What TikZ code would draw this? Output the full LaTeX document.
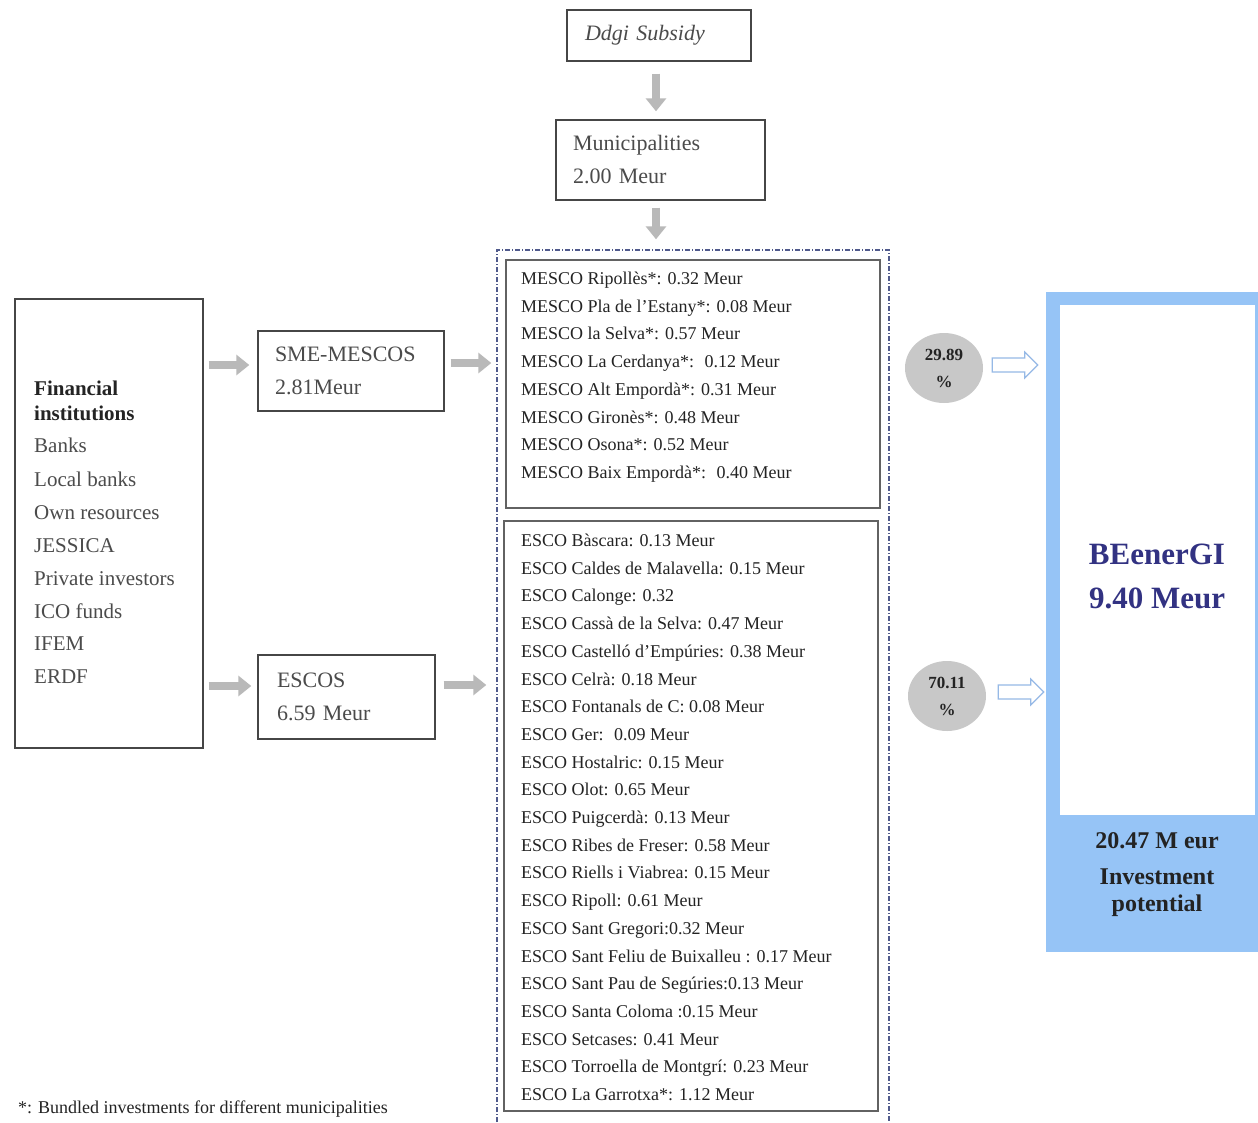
\documentclass[tikz,border=0pt]{standalone}
\usepackage{fontspec}
\setmainfont{Liberation Serif}
\usetikzlibrary{shapes.geometric,arrows.meta,calc}
\definecolor{boxline}{RGB}{70,70,70}
\definecolor{txt}{RGB}{35,35,35}
\definecolor{lighttxt}{RGB}{75,75,75}
\definecolor{arrowgray}{RGB}{185,185,185}
\definecolor{lightblue}{RGB}{150,196,246}
\definecolor{darkblue}{RGB}{50,50,130}
\definecolor{hollowblue}{RGB}{150,185,230}
\definecolor{circlegray}{RGB}{200,200,200}
\definecolor{dashblue}{RGB}{80,90,140}
\begin{document}
\begin{tikzpicture}[x=1pt,y=-1pt,
  box/.style={draw=boxline, line width=1.4pt, rectangle, inner sep=0pt},
  twoline/.style={box, align=left, text=lighttxt, font=\fontsize{22}{33}\selectfont},
  listline/.style={anchor=base west, inner sep=0pt, text=txt, font=\fontsize{18}{20}\selectfont},
  finline/.style={anchor=base west, inner sep=0pt, text=lighttxt, font=\fontsize{21}{24}\selectfont},
  garrow/.style={draw=arrowgray, line width=8pt, -{Triangle[length=13pt,width=20pt]}},
  harrow/.style={draw=hollowblue, fill=white, line width=1.2pt, line join=miter},
  dashbox/.style={draw=dashblue, line width=1.1pt, dash pattern=on 5pt off 2pt on 1pt off 2pt},
  pct/.style={ellipse, fill=circlegray, inner sep=0pt, minimum width=78pt, minimum height=70pt,
    align=center, text=txt, font=\fontsize{17}{27}\selectfont\bfseries}
]
\useasboundingbox (0,0) rectangle (1258,1122);
\fill[white] (0,0) rectangle (1258,1122);

% dashed container
\draw[dashbox] (497,1122) -- (497,250) -- (889,250) -- (889,1122);

% top boxes
\node[box, minimum width=184pt, minimum height=51pt, text width=148pt, align=left,
  text=lighttxt, font=\fontsize{22}{26}\selectfont\itshape] (subsidy) at (659,35.5) {Ddgi Subsidy};
\node[twoline, minimum width=209pt, minimum height=80pt, text width=175pt] (muni) at (660.5,160) {Municipalities\\2.00 Meur};

% left box
\node[box, minimum width=188pt, minimum height=449pt] (fin) at (109,523.5) {};
\node[finline, font=\fontsize{21}{24}\selectfont\bfseries, text=txt] (fa) at (34,395) {Financial};
\node[finline, font=\fontsize{21}{24}\selectfont\bfseries, text=txt] (fb) at (34,420) {institutions};
\foreach \yy/\lbl [count=\i] in {452/Banks, 486/Local banks, 519/Own resources, 552/JESSICA,
  585/Private investors, 618/ICO funds, 650/IFEM, 683/ERDF}
  \node[finline] (f\i) at (34,\yy) {\lbl};

% middle boxes
\node[twoline, minimum width=186pt, minimum height=80pt, text width=152pt] (sme) at (351,371) {SME-MESCOS\\2.81Meur};
\node[twoline, minimum width=177pt, minimum height=84pt, text width=139pt] (escos) at (346.5,697) {ESCOS\\6.59 Meur};

% MESCO list
\node[box, draw=boxline!85, minimum width=374pt, minimum height=248pt] (mesco) at (693,384) {};
\foreach \lbl [count=\i] in {MESCO Ripollès*: 0.32 Meur, MESCO Pla de l’Estany*: 0.08 Meur,
  MESCO la Selva*: 0.57 Meur, MESCO La Cerdanya*:~ 0.12 Meur, MESCO Alt Empordà*: 0.31 Meur,
  MESCO Gironès*: 0.48 Meur, MESCO Osona*: 0.52 Meur, MESCO Baix Empordà*:~ 0.40 Meur}
  \node[listline] (m\i) at (521,{284.5+27.7*(\i-1)}) {\lbl};

% ESCO list
\node[box, draw=boxline!85, minimum width=374pt, minimum height=590pt] (esco) at (691,816) {};
\foreach \lbl [count=\i] in {ESCO Bàscara: 0.13 Meur, ESCO Caldes de Malavella: 0.15 Meur,
  ESCO Calonge: 0.32, ESCO Cassà de la Selva: 0.47 Meur, ESCO Castelló d’Empúries: 0.38 Meur,
  ESCO Celrà: 0.18 Meur, ESCO Fontanals de C: 0.08 Meur, ESCO Ger:~ 0.09 Meur,
  ESCO Hostalric: 0.15 Meur, ESCO Olot: 0.65 Meur, ESCO Puigcerdà: 0.13 Meur,
  ESCO Ribes de Freser: 0.58 Meur, ESCO Riells i Viabrea: 0.15 Meur, ESCO Ripoll: 0.61 Meur,
  ESCO Sant Gregori:0.32 Meur, ESCO Sant Feliu de Buixalleu : 0.17 Meur,
  ESCO Sant Pau de Segúries:0.13 Meur, ESCO Santa Coloma :0.15 Meur, ESCO Setcases: 0.41 Meur,
  ESCO Torroella de Montgrí: 0.23 Meur, ESCO La Garrotxa*: 1.12 Meur}
  \node[listline] (e\i) at (521,{546.5+27.7*(\i-1)}) {\lbl};

% percentage circles
\node[pct] (c1) at (944,368) {29.89\\\%};
\node[pct] (c2) at (947,696) {70.11\\\%};

% BEenerGI
\node[rectangle, fill=lightblue, inner sep=0pt, minimum width=212pt, minimum height=660pt] (beo) at (1152,622) {};
\node[rectangle, fill=white, inner sep=0pt, minimum width=195pt, minimum height=510pt] (bei) at (1157.5,560) {};
\node[anchor=base, inner sep=0pt, text=darkblue, font=\fontsize{31}{36}\selectfont\bfseries] (bt1) at (1157,564) {BEenerGI};
\node[anchor=base, inner sep=0pt, text=darkblue, font=\fontsize{31}{36}\selectfont\bfseries] (bt2) at (1157,608) {9.40 Meur};
\node[anchor=base, inner sep=0pt, text=txt, font=\fontsize{24}{28}\selectfont\bfseries] (bb1) at (1157,848) {20.47 M eur};
\node[anchor=base, inner sep=0pt, text=txt, font=\fontsize{24}{28}\selectfont\bfseries] (bb2) at (1157,884) {Investment};
\node[anchor=base, inner sep=0pt, text=txt, font=\fontsize{24}{28}\selectfont\bfseries] (bb3) at (1157,911) {potential};

% footnote
\node[anchor=base west, inner sep=0pt, text=txt, font=\fontsize{18}{20}\selectfont] (note) at (18,1113) {*: Bundled investments for different municipalities};

% gray arrows
\coordinate (ya) at (0,365);
\coordinate (yb) at (0,363);
\coordinate (yc) at (0,686);
\coordinate (yd) at (0,685);
\coordinate (xd) at (656,0);
\draw[garrow, shorten <=12pt, shorten >=8pt] (subsidy.south -| xd) -- (muni.north -| xd);
\draw[garrow, shorten <=7pt, shorten >=20pt] (muni.south -| xd) -- (mesco.north -| xd);
\draw[garrow, shorten <=5pt, shorten >=8pt] (fin.east |- ya) -- (sme.west |- ya);
\draw[garrow, shorten <=6pt, shorten >=14pt] (sme.east |- yb) -- (mesco.west |- yb);
\draw[garrow, shorten <=5pt, shorten >=6pt] (fin.east |- yc) -- (escos.west |- yc);
\draw[garrow, shorten <=8pt, shorten >=17pt] (escos.east |- yd) -- (esco.west |- yd);

% hollow block arrows from the circles to BEenerGI
\coordinate (ye) at (0,365);
\coordinate (yf) at (0,692);
\coordinate (h1s) at ($(c1.east |- ye)+(9,0)$);
\coordinate (h1e) at ($(beo.west |- ye)+(-8,0)$);
\coordinate (h2s) at ($(c2.east |- yf)+(12,0)$);
\coordinate (h2e) at ($(beo.west |- yf)+(-2,0)$);
\draw[harrow] ($(h1s)+(0,-7)$) -- ($(h1e)+(-13,-7)$) -- ($(h1e)+(-13,-13)$) -- (h1e)
  -- ($(h1e)+(-13,13)$) -- ($(h1e)+(-13,7)$) -- ($(h1s)+(0,7)$) -- cycle;
\draw[harrow] ($(h2s)+(0,-7)$) -- ($(h2e)+(-13,-7)$) -- ($(h2e)+(-13,-13)$) -- (h2e)
  -- ($(h2e)+(-13,13)$) -- ($(h2e)+(-13,7)$) -- ($(h2s)+(0,7)$) -- cycle;
\end{tikzpicture}
\end{document}
